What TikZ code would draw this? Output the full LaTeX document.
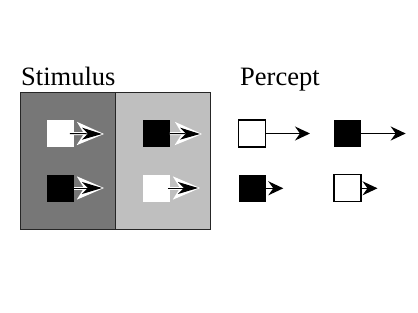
\documentclass[tikz,border=0pt]{standalone}
\usepackage{fontspec}
\setmainfont{Liberation Serif}
\usetikzlibrary{arrows.meta}

\begin{document}
\begin{tikzpicture}[x=1pt,y=-1pt,>={Stealth[length=15pt,width=14pt,inset=5pt]},
    sq/.style={minimum size=27pt,inner sep=0pt,outer sep=0pt},
    wsq/.style={sq,fill=white,draw=black,line width=1.3pt},
    bsq/.style={sq,fill=black},
    halo/.style={white,line width=3pt,-{Stealth[length=27pt,width=23pt,inset=7pt]}},
    stim/.style={line width=1pt,-{Stealth[length=20pt,width=12pt,inset=6pt]}},
    label/.style={font=\fontsize{26.5}{30}\selectfont,anchor=base west,inner sep=0pt}]
  \useasboundingbox (0,0) rectangle (418,313);
  % stimulus panels
  \fill[fill={rgb,255:red,119;green,119;blue,119}] (20.5,92.5) rectangle (115,229.5);
  \fill[fill={rgb,255:red,191;green,191;blue,191}] (115,92.5) rectangle (210.5,229.5);
  \draw[line width=1pt,black!85] (20.5,92.5) rectangle (210.5,229.5) (115,92.5) -- (115,229.5);
  \node[label] (stimulus) at (21,86) {Stimulus};
  \node[label] (percept) at (240,86) {Percept};
  % stimulus squares
  \node[sq,fill=white] (s1) at (60.3,133.5) {};
  \node[bsq] (s2) at (60.3,188) {};
  \node[bsq] (s3) at (156.3,133.5) {};
  \node[sq,fill=white] (s4) at (156.3,188) {};
  \coordinate (t1) at (102,134);
  \coordinate (t2) at (102,188);
  \coordinate (t3) at (200,134);
  \coordinate (t4) at (198,188);
  \foreach \i in {1,...,4} {
    \draw[halo] (s\i.east) -- ([xshift=2pt]t\i);
  }
  \draw[stim] ([xshift=-4pt]s1.east) -- (t1);
  \draw[stim] (s2.east) -- (t2);
  \draw[stim] (s3.east) -- (t3);
  \draw[stim] ([xshift=-2pt]s4.east) -- (t4);
  % percept squares
  \node[wsq] (p1) at (252,133.5) {};
  \node[bsq] (p2) at (347.5,133.5) {};
  \node[bsq] (p3) at (252,188.3) {};
  \node[wsq] (p4) at (347.5,188.3) {};
  \coordinate (q1) at (310,133.5);
  \coordinate (q2) at (405.7,133.5);
  \coordinate (q3) at (283.3,188.3);
  \coordinate (q4) at (377.5,188.3);
  \foreach \i in {1,...,4} {
    \draw[->,line width=1.3pt] (p\i.east) -- (q\i);
  }
\end{tikzpicture}
\end{document}
